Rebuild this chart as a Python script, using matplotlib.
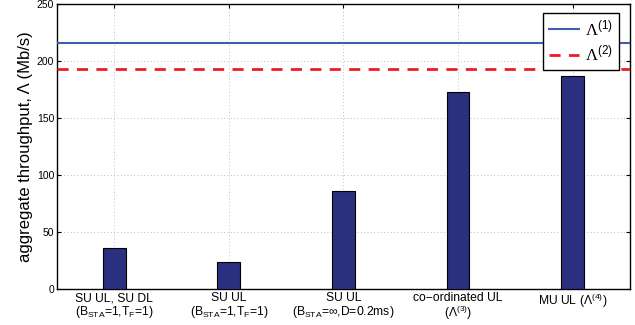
import matplotlib
matplotlib.use("Agg")
import matplotlib.pyplot as plt

plt.rcParams['font.family'] = ['Liberation Sans', 'DejaVu Sans']
plt.rcParams['mathtext.fontset'] = 'custom'
plt.rcParams['mathtext.rm'] = 'Liberation Sans'
plt.rcParams['mathtext.it'] = 'Liberation Sans:italic'
plt.rcParams['mathtext.bf'] = 'Liberation Sans:bold'

# data
categories = [
    "SU UL, SU DL\n(B$_{\\rm STA}$=1,T$_{\\rm F}$=1)",
    "SU UL\n(B$_{\\rm STA}$=1,T$_{\\rm F}$=1)",
    "SU UL\n(B$_{\\rm STA}$=\u221e,D=0.2ms)",
    "co\u2212ordinated UL\n($\\Lambda^{(3)}$)",
    "MU UL ($\\Lambda^{(4)}$)",
]
throughput = [36, 24, 86, 173, 187]
lambda1 = 216
lambda2 = 193
yticks = [0, 50, 100, 150, 200, 250]

fig = plt.figure(figsize=(6.35, 3.25), dpi=100)
ax = fig.add_axes([0.0898, 0.11, 0.902, 0.878])

pos = list(range(1, len(throughput) + 1))
ax.bar(pos, throughput, width=0.2, color='#2b2f80', edgecolor='black', linewidth=0.8, zorder=3)
ax.axhline(lambda1, color='#3f5fae', linewidth=1.5, label=u'\u039b$^{(1)}$', zorder=4)
ax.axhline(lambda2, color='#ee1c24', linewidth=2, linestyle=(0, (4, 3)), label=u'\u039b$^{(2)}$', zorder=4)

ax.set_xlim(0.5, 5.5)
ax.set_ylim(0, 250)
ax.set_xticks(pos)
ax.set_xticklabels(categories, fontsize=8.7, linespacing=1.0)
ax.set_yticks(yticks)
ax.tick_params(axis='y', labelsize=7.5)
ax.tick_params(direction='in', top=True, right=True, length=3, pad=2)
ax.grid(True, linestyle=(0, (1, 3)), color='#aaaaaa', linewidth=0.6)
ax.set_axisbelow(True)
for s in ax.spines.values():
    s.set_linewidth(1.0)

ax.set_ylabel(u'aggregate throughput, \u039b (Mb/s)', fontsize=12, labelpad=3)

leg = ax.legend(loc='upper right', prop={'family': 'Liberation Serif', 'size': 12},
                fancybox=False, framealpha=1, edgecolor='black', handlelength=1.8,
                handletextpad=0.4, borderaxespad=0.3, labelspacing=0.35, borderpad=0.35,
                bbox_to_anchor=(0.99, 0.985))
leg.get_frame().set_linewidth(1.0)

fig.savefig('out.png', dpi=100)
